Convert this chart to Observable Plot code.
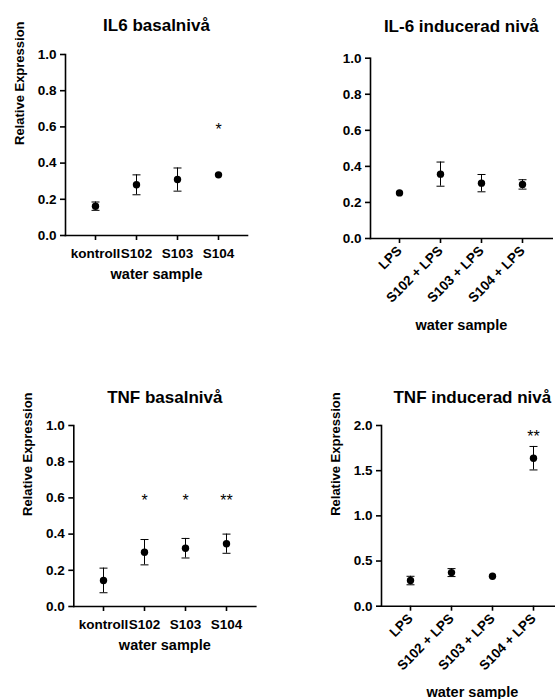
<!DOCTYPE html>
<html><head><meta charset="utf-8">
<script src="https://cdn.jsdelivr.net/npm/d3@7"></script>
<script src="https://cdn.jsdelivr.net/npm/@observablehq/plot@0.6"></script>
<style>
html,body{margin:0;padding:0;background:#fff;overflow:hidden;}
#root{position:relative;width:555px;height:699px;overflow:hidden;}
</style></head><body><div id="root"></div>
<script>
// ---- data ----
const basalCats = ["kontroll", "S102", "S103", "S104"];
const inducedCats = ["LPS", "S102 + LPS", "S103 + LPS", "S104 + LPS"];

const il6BasalMean = [0.162, 0.280, 0.309, 0.335];
const il6BasalErr = [0.023, 0.055, 0.064, 0];
const il6BasalStars = ["", "", "", "*"];

const il6InducedMean = [0.253, 0.357, 0.307, 0.300];
const il6InducedErr = [0, 0.067, 0.048, 0.026];
const il6InducedStars = ["", "", "", ""];

const tnfBasalMean = [0.144, 0.300, 0.322, 0.347];
const tnfBasalErr = [0.068, 0.070, 0.054, 0.053];
const tnfBasalStars = ["", "*", "*", "**"];

const tnfInducedMean = [0.284, 0.372, 0.332, 1.638];
const tnfInducedErr = [0.047, 0.044, 0, 0.130];
const tnfInducedStars = ["", "", "", "**"];

const starLevelLow = 0.585;
const starLevelHigh = 1.87;

const titles = ["IL6 basalnivå", "IL-6 inducerad nivå", "TNF basalnivå", "TNF inducerad nivå"];
const yLabel = "Relative Expression";
const xLabel = "water sample";
const ticksUnit = [0, 0.2, 0.4, 0.6, 0.8, 1.0];
const ticksDouble = [0, 0.5, 1.0, 1.5, 2.0];

// ---- drawing ----
const FONT = "'Liberation Sans', Arial, Helvetica, sans-serif";
const capSymbol = {draw(ctx, size) { const w = Math.sqrt(size / Math.PI); ctx.moveTo(-w, 0); ctx.lineTo(w, 0); }};

function panel(o) {
  const rows = o.cats.map((c, i) => ({cat: c, mean: o.mean[i], lo: o.mean[i] - o.err[i], hi: o.mean[i] + o.err[i], err: o.err[i], star: o.stars[i]}));
  const withErr = rows.filter(d => d.err > 0);
  const starred = rows.filter(d => d.star);
  const marks = [
    Plot.frame({anchor: "left", strokeWidth: 1.6}),
    Plot.frame({anchor: "bottom", strokeWidth: 1.6}),
    Plot.axisY({ticks: o.yTicks, tickFormat: d3.format(".1f"), tickSize: 5, tickPadding: 4, strokeWidth: 1.6, label: null}),
    o.rotate
      ? Plot.axisX({tickSize: 5, tickPadding: 5, tickRotate: -45, strokeWidth: 1.6, label: null})
      : Plot.axisX({tickSize: 5, tickPadding: 8, strokeWidth: 1.6, label: null}),
    Plot.ruleX(withErr, {x: "cat", y1: "lo", y2: "hi", stroke: "black", strokeWidth: 1}),
    Plot.dot(withErr, {x: "cat", y: "lo", symbol: capSymbol, r: 4, stroke: "black", strokeWidth: 1, fill: "none"}),
    Plot.dot(withErr, {x: "cat", y: "hi", symbol: capSymbol, r: 4, stroke: "black", strokeWidth: 1, fill: "none"}),
    Plot.dot(rows, {x: "cat", y: "mean", r: 3.7, fill: "black", stroke: "none"}),
    Plot.text(starred, {x: "cat", y: () => o.starY, text: "star", fontSize: 16, fontWeight: "normal", fill: "black"}),
    Plot.text([o.title], {text: d => d, frameAnchor: "top", dy: o.titleDy, lineAnchor: "bottom", fontSize: 17, fontWeight: "bold"}),
    Plot.text([xLabel], {text: d => d, frameAnchor: "bottom", dy: o.xLabelDy, lineAnchor: "bottom", fontSize: 14.5, fontWeight: "bold"})
  ];
  if (o.showYLabel) marks.push(Plot.text([yLabel], {text: d => d, frameAnchor: "left", rotate: -90, dx: -46, fontSize: 13, fontWeight: "bold"}));
  const svg = Plot.plot({
    width: o.box.w, height: o.box.h,
    marginLeft: o.box.ml, marginRight: o.box.mr, marginTop: o.box.mt, marginBottom: o.box.mb,
    style: {fontFamily: FONT, fontSize: "13.5px", fontWeight: "bold", color: "black", background: "transparent", overflow: "visible"},
    x: {type: "point", domain: o.cats, padding: 0.684},
    y: {domain: o.yDomain},
    marks
  });
  svg.style.position = "absolute";
  svg.style.left = o.box.left + "px";
  svg.style.top = o.box.top + "px";
  document.getElementById("root").appendChild(svg);
}

panel({cats: basalCats, mean: il6BasalMean, err: il6BasalErr, stars: il6BasalStars, starY: starLevelLow,
  title: titles[0], yDomain: [0, 1], yTicks: ticksUnit, showYLabel: true, rotate: false, titleDy: -23.3, xLabelDy: 43.3,
  box: {left: 0, top: 0, w: 277, h: 300, ml: 65, mr: 30, mt: 54, mb: 65}});
panel({cats: inducedCats, mean: il6InducedMean, err: il6InducedErr, stars: il6InducedStars, starY: starLevelLow,
  title: titles[1], yDomain: [0, 1], yTicks: ticksUnit, showYLabel: false, rotate: true, titleDy: -26, xLabelDy: 91,
  box: {left: 280, top: 0, w: 277, h: 340, ml: 90, mr: 5.3, mt: 57.7, mb: 102}});
panel({cats: basalCats, mean: tnfBasalMean, err: tnfBasalErr, stars: tnfBasalStars, starY: starLevelLow,
  title: titles[2], yDomain: [0, 1], yTicks: ticksUnit, showYLabel: true, rotate: false, titleDy: -23, xLabelDy: 43,
  box: {left: 0, top: 370, w: 280, h: 300, ml: 73.3, mr: 24.7, mt: 55, mb: 64}});
panel({cats: inducedCats, mean: tnfInducedMean, err: tnfInducedErr, stars: tnfInducedStars, starY: starLevelHigh,
  title: titles[3], yDomain: [0, 2], yTicks: ticksDouble, showYLabel: true, rotate: true, titleDy: -23, xLabelDy: 91,
  box: {left: 280, top: 370, w: 290, h: 329, ml: 101, mr: 7.3, mt: 55, mb: 93.3}});
</script></body></html>
